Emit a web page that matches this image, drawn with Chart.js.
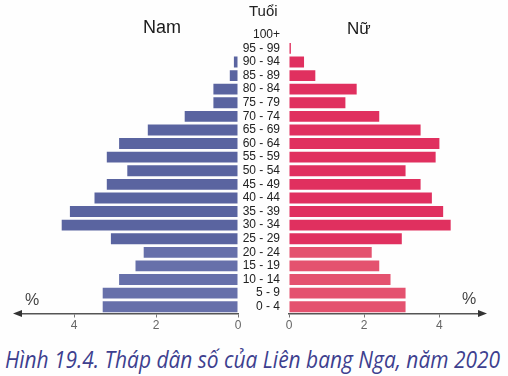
<!DOCTYPE html>
<html>
<head>
<meta charset="utf-8">
<script src="https://cdn.jsdelivr.net/npm/chart.js@4/dist/chart.umd.min.js"></script>
<style>
  html, body { margin:0; padding:0; background:#ffffff; }
  #wrap { position:relative; width:508px; height:376px; overflow:hidden; background:#fefefe; }
  canvas { position:absolute; top:0; }
  .t { position:absolute; white-space:nowrap; font-family:"Liberation Sans", Arial, sans-serif; color:#222; line-height:1; }
  #caption { position:absolute; left:5px; top:347px; white-space:nowrap; font-family:"Open Sans", "Noto Sans", sans-serif; font-style:italic; font-size:24px; color:#3d3f8f; line-height:1; transform-origin:0 0; }
</style>
</head>
<body>
<div id="wrap">
  <canvas id="male" width="245" height="340" style="left:0px;width:245px;height:340px"></canvas>
  <canvas id="female" width="270" height="340" style="left:238px;width:270px;height:340px"></canvas>
  <div class="t" style="left:249px;top:3px;font-size:15px;">Tuổi</div>
  <div class="t" style="left:143px;top:18px;font-size:18px;color:#1a1a1a;">Nam</div>
  <div class="t" style="left:347px;top:20px;font-size:17px;color:#1a1a1a;">Nữ</div>
  <div class="t" style="left:25px;top:292px;font-size:16px;color:#444;">%</div>
  <div class="t" style="left:462px;top:291px;font-size:16px;color:#444;">%</div>
  <div id="caption">Hình 19.4. Tháp dân số của Liên bang Nga, năm 2020</div>
</div>
<script>
const ageGroups = ["100+","95 - 99","90 - 94","85 - 89","80 - 84","75 - 79","70 - 74","65 - 69","60 - 64","55 - 59","50 - 54","45 - 49","40 - 44","35 - 39","30 - 34","25 - 29","20 - 24","15 - 19","10 - 14","5 - 9","0 - 4"];
const maleValues   = [0, 0, 0.1, 0.2, 0.6, 0.6, 1.3, 2.2, 2.9, 3.2, 2.7, 3.2, 3.5, 4.1, 4.3, 3.1, 2.3, 2.5, 2.9, 3.3, 3.3];
const femaleValues = [0, 0.05, 0.4, 0.7, 1.8, 1.5, 2.4, 3.5, 4.0, 3.9, 3.1, 3.5, 3.8, 4.1, 4.3, 3.0, 2.2, 2.4, 2.7, 3.1, 3.1];
const xTicks = [0, 2, 4];

const maleColors = ageGroups.map((a, i) => i >= 16 ? '#6770aa' : '#5a64a0');
const femaleColors = ageGroups.map((a, i) => i >= 16 ? '#e4526f' : '#e0305f');

const arrowPlugin = {
  id: 'arrow',
  afterDraw(chart, args, opts) {
    const ctx = chart.ctx, ca = chart.chartArea;
    const y = ca.bottom;
    ctx.save();
    ctx.fillStyle = '#333';
    ctx.strokeStyle = '#555';
    ctx.lineWidth = 1.5;
    ctx.beginPath();
    if (opts.dir === 'left') {
      ctx.moveTo(ca.left, y); ctx.lineTo(opts.tip + 4, y); ctx.stroke();
      ctx.beginPath();
      ctx.moveTo(opts.tip, y); ctx.lineTo(opts.tip + 9, y - 3.5); ctx.lineTo(opts.tip + 9, y + 3.5);
    } else {
      ctx.moveTo(ca.right, y); ctx.lineTo(opts.tip - 4, y); ctx.stroke();
      ctx.beginPath();
      ctx.moveTo(opts.tip, y); ctx.lineTo(opts.tip - 9, y - 3.5); ctx.lineTo(opts.tip - 9, y + 3.5);
    }
    ctx.closePath();
    ctx.fill();
    ctx.restore();
  }
};

function xScale(max, reverse) {
  return {
    type: 'linear', min: 0, max: max, reverse: reverse,
    afterFit: s => { s.height = 26.5; },
    afterBuildTicks: s => { s.ticks = xTicks.map(v => ({ value: v })); },
    border: { display: true, color: '#555', width: 1.5 },
    grid: { display: true, drawOnChartArea: false, drawTicks: true, tickLength: 4, color: '#777', tickColor: '#777' },
    ticks: { padding: 1, color: '#666', font: { family: 'Liberation Sans, Arial, sans-serif', size: 12 } }
  };
}

new Chart(document.getElementById('male'), {
  type: 'bar',
  data: { labels: ageGroups, datasets: [{ data: maleValues, backgroundColor: maleColors, barPercentage: 0.8, categoryPercentage: 1 }] },
  options: {
    indexAxis: 'y', responsive: false, animation: false, devicePixelRatio: 1,
    layout: { padding: { left: 20, right: 7, top: 28, bottom: 0 } },
    plugins: { legend: { display: false }, tooltip: { enabled: false }, arrow: { dir: 'left', tip: 13 } },
    scales: {
      x: xScale(218 / 41, true),
      y: { display: false }
    }
  },
  plugins: [arrowPlugin]
});

new Chart(document.getElementById('female'), {
  type: 'bar',
  data: { labels: ageGroups, datasets: [{ data: femaleValues, backgroundColor: femaleColors, barPercentage: 0.8, categoryPercentage: 1 }] },
  options: {
    indexAxis: 'y', responsive: false, animation: false, devicePixelRatio: 1,
    layout: { padding: { left: 0, right: 27, top: 28, bottom: 0 } },
    plugins: { legend: { display: false }, tooltip: { enabled: false }, arrow: { dir: 'right', tip: 249 } },
    scales: {
      x: xScale(192 / 37.6, false),
      y: {
        afterFit: s => { s.width = 51; },
        border: { display: false },
        grid: { display: false, drawTicks: false },
        ticks: { autoSkip: false, padding: 9, color: '#222', font: { family: 'Liberation Sans, Arial, sans-serif', size: 12 } }
      }
    }
  },
  plugins: [arrowPlugin]
});

const cap = document.getElementById('caption');
const w = cap.getBoundingClientRect().width;
cap.style.transform = 'scaleX(' + (495 / w) + ')';
</script>
</body>
</html>
